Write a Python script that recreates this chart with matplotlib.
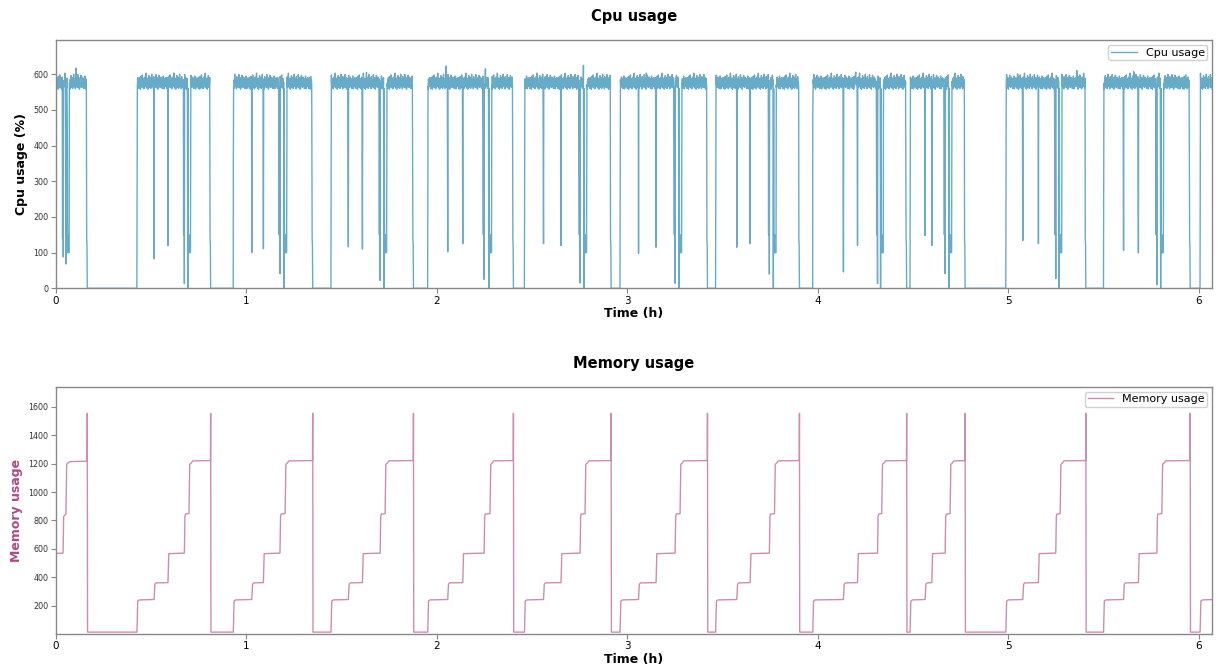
import numpy as np
import matplotlib
matplotlib.use("Agg")
import matplotlib.pyplot as plt

# ---------------- data (time in hours) ----------------
# memory-growth cycles: rise of the job, four memory steps, spike + release
cycle_rise  = [0.425, 0.931, 1.444, 1.952, 2.460, 2.962, 3.464, 3.974, 4.485, 4.988, 5.501]
cycle_step1 = [0.515, 1.028, 1.535, 2.057, 2.560, 3.059, 3.575, 4.135, 4.564, 5.077, 5.606]
cycle_step2 = [0.588, 1.089, 1.609, 2.136, 2.652, 3.151, 3.645, 4.209, 4.599, 5.159, 5.684]
cycle_step3 = [0.674, 1.176, 1.702, 2.248, 2.752, 3.251, 3.746, 4.314, 4.669, 5.250, 5.781]
cycle_step4 = [0.698, 1.203, 1.728, 2.279, 2.778, 3.277, 3.773, 4.336, 4.695, 5.273, 5.807]
cycle_end   = [0.812, 1.348, 1.877, 2.402, 2.915, 3.421, 3.904, 4.467, 4.774, 5.408, 5.956]
first_end = 0.164          # end of the cycle already running at t = 0
last_rise = 6.008          # cycle still running at the end of the record
t_max = 6.07

# CPU dip depths (%) at each memory step, and the value reached on the rise
cpu_dip1 = [83, 100, 116, 102, 125, 98, 115, 46, 148, 134, 106]
cpu_dip2 = [120, 111, 110, 125, 120, 115, 125, 120, 120, 125, 99]
cpu_dip3 = [13, 41, 22, 25, 15, 14, 40, 13, 41, 27, 10]
cpu_rise_flag = [130, 335, 130, 130, 130, 130, 130, 489, 130, 130, 130]
# texture of the busy plateau (%), read along the band
cpu_band = [566, 585, 560, 591, 571, 579, 558, 594, 565, 583, 575, 598, 562, 580,
            569, 588, 559, 577, 592, 564, 584, 570, 603, 566, 581, 561, 589, 574,
            558, 586, 572, 596, 563, 579, 568, 591, 560, 583, 576, 600, 565, 580,
            571, 587, 559, 593, 569, 578, 564, 585, 573, 599, 562, 582, 567, 590,
            558, 576, 588, 565, 597, 570, 584, 563, 579, 592, 566, 574, 587, 560,
            581, 564, 595, 571, 559, 586, 577, 565, 590, 573]
# isolated tall peaks on the plateau
cpu_peak_t = [0.105, 0.62, 1.63, 2.047, 2.255, 2.770, 3.10, 4.20, 5.05, 5.36, 5.66]
cpu_peak_v = [617, 602, 605, 623, 615, 625, 603, 606, 601, 610, 607]

# memory levels (MB)
mem_idle = 13
mem_step_levels = [240, 360, 570, 845, 1205, 1220]
mem_spike = 1555

# ---------------- build the CPU series ----------------
dt = 0.0018
ct, cv = [], []
band_i = [0]

def pt(t, v):
    ct.append(t); cv.append(v)

def plateau(t0, t1):
    t = t0
    while t < t1:
        pt(t, cpu_band[band_i[0] % len(cpu_band)])
        band_i[0] += 1
        t += dt

# cycle running at t = 0
plateau(0.0, 0.033)
pt(0.0345, 139); pt(0.036, 570); pt(0.038, 88); pt(0.040, 575)
plateau(0.041, 0.051)
pt(0.0525, 68); pt(0.054, 570)
plateau(0.055, 0.058)
pt(0.059, 465); pt(0.061, 100); pt(0.063, 150); pt(0.064, 100); pt(0.069, 100); pt(0.070, 575)
plateau(0.071, first_end - 0.004)
pt(first_end - 0.003, 140); pt(first_end - 0.0015, 120); pt(first_end, 0)

for i in range(len(cycle_rise)):
    R, S1, S2, S3, S4, E = (cycle_rise[i], cycle_step1[i], cycle_step2[i],
                            cycle_step3[i], cycle_step4[i], cycle_end[i])
    pt(R - 0.0005, 0); pt(R, cpu_rise_flag[i]); pt(R + 0.0015, 565)
    plateau(R + 0.002, S1 - 0.001)
    pt(S1, cpu_dip1[i]); pt(S1 + 0.0012, 570)
    plateau(S1 + 0.0015, S2 - 0.001)
    pt(S2, cpu_dip2[i]); pt(S2 + 0.0012, 570)
    plateau(S2 + 0.0015, S3 - 0.005)
    pt(S3 - 0.004, 150); pt(S3 - 0.003, 565); pt(S3, cpu_dip3[i]); pt(S3 + 0.0012, 570)
    plateau(S3 + 0.0015, S4 - 0.007)
    pt(S4 - 0.006, 0); pt(S4 - 0.0045, 560); pt(S4 - 0.003, 100); pt(S4, 150)
    pt(S4 + 0.001, 100); pt(S4 + 0.008, 100); pt(S4 + 0.0095, 570)
    plateau(S4 + 0.010, E - 0.004)
    pt(E - 0.003, 140); pt(E - 0.0015, 120); pt(E, 0)

pt(last_rise - 0.0005, 0); pt(last_rise, 130); pt(last_rise + 0.0015, 565)
plateau(last_rise + 0.002, t_max + 0.01)

ct = np.array(ct); cv = np.array(cv, dtype=float)
for tp, vp in zip(cpu_peak_t, cpu_peak_v):
    j = int(np.argmin(np.abs(ct - tp)))
    cv[j] = vp

# ---------------- build the memory series ----------------
mt, mv = [], []
def mp(t, v):
    mt.append(t); mv.append(v)

L = mem_step_levels
mp(0.0, 568); mp(0.037, L[2]); mp(0.040, 828); mp(0.052, L[3]); mp(0.056, 1195)
mp(0.062, L[4]); mp(0.073, 1215); mp(first_end - 0.001, 1218); mp(first_end, mem_spike)
mp(first_end + 0.0015, mem_idle)
for i in range(len(cycle_rise)):
    R, S1, S2, S3, S4, E = (cycle_rise[i], cycle_step1[i], cycle_step2[i],
                            cycle_step3[i], cycle_step4[i], cycle_end[i])
    mp(R, mem_idle); mp(R + 0.004, 232); mp(R + 0.012, L[0]); mp(S1, L[0] + 3)
    mp(S1 + 0.004, 350); mp(S1 + 0.010, L[1]); mp(S2, L[1] + 2)
    mp(S2 + 0.004, 566); mp(S3, L[2]); mp(S3 + 0.003, 828); mp(S3 + 0.006, L[3])
    mp(S4, L[3] + 3); mp(S4 + 0.004, 1195); mp(S4 + 0.012, L[4]); mp(S4 + 0.020, L[5])
    mp(E - 0.001, L[5] + 2); mp(E, mem_spike); mp(E + 0.0015, mem_idle)
mp(last_rise, mem_idle); mp(last_rise + 0.004, 232); mp(last_rise + 0.012, L[0])
mp(t_max + 0.01, L[0] + 3)

# ---------------- draw ----------------
cpu_color = '#2e8bb5'
mem_color = '#b0407a'
spine_color = '#888888'

fig = plt.figure(figsize=(12.18, 6.72), dpi=100)
ax1 = fig.add_axes([0.046, 0.571, 0.949, 0.369])
ax2 = fig.add_axes([0.046, 0.057, 0.949, 0.367])

ax1.plot(ct, cv, color=cpu_color, alpha=0.72, lw=1.0, label='Cpu usage')
ax2.plot(mt, mv, color=mem_color, alpha=0.6, lw=1.0, label='Memory usage')

ax1.set_ylim(0, 695)
ax1.set_yticks([0, 100, 200, 300, 400, 500, 600])
ax2.set_ylim(2, 1740)
ax2.set_yticks([200, 400, 600, 800, 1000, 1200, 1400, 1600])

for ax in (ax1, ax2):
    ax.set_xlim(0, t_max)
    ax.set_xticks([0, 1, 2, 3, 4, 5, 6])
    for s in ax.spines.values():
        s.set_color(spine_color)
        s.set_linewidth(1.0)
    ax.tick_params(axis='x', labelsize=7.5, color=spine_color, length=3.5, pad=2)
    ax.tick_params(axis='y', labelsize=5.8, color=spine_color, length=3.5, pad=2,
                   labelcolor='#333333')
    ax.set_xlabel('Time (h)', fontsize=9, fontweight='bold', labelpad=1)
    ax.legend(loc='upper right', fontsize=8, handlelength=2.3, borderpad=0.25,
              labelspacing=0.2, handletextpad=0.8, borderaxespad=0.4,
              framealpha=0.9, fancybox=True)

ax1.set_title('Cpu usage', fontsize=10.5, fontweight='bold', pad=14)
ax2.set_title('Memory usage', fontsize=10.5, fontweight='bold', pad=14)
ax1.set_ylabel('Cpu usage (%)', fontsize=9, fontweight='bold', labelpad=4)
ax2.set_ylabel('Memory usage', fontsize=9, fontweight='bold', color='#b04a80', labelpad=4)

fig.savefig('out.png', dpi=100)
